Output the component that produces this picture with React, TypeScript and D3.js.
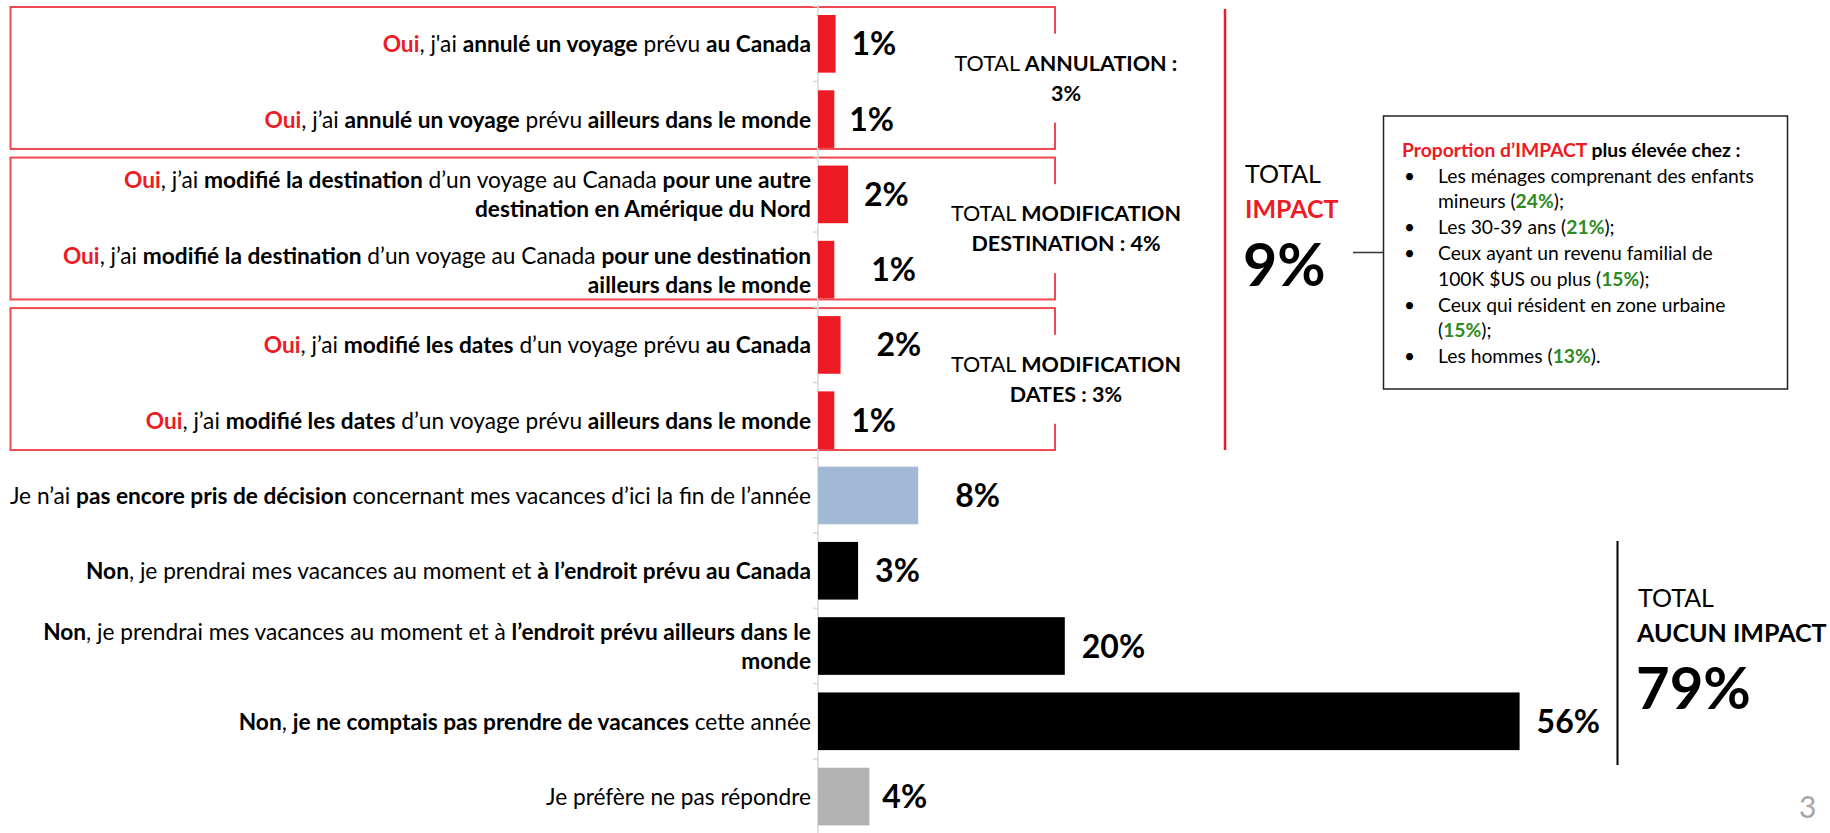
import React from "react";
import * as d3 from "d3";

// ---------- data ----------
const categories: string[] = [
  "^^Oui^^, j'ai **annulé un voyage** prévu **au Canada**",
  "^^Oui^^, j’ai **annulé un voyage** prévu **ailleurs dans le monde**",
  "^^Oui^^, j’ai **modifié la destination** d’un voyage au Canada **pour une autre**\n**destination en Amérique du Nord**",
  "^^Oui^^, j’ai **modifié la destination** d’un voyage au Canada **pour une destination**\n**ailleurs dans le monde**",
  "^^Oui^^, j’ai **modifié les dates** d’un voyage prévu **au Canada**",
  "^^Oui^^, j’ai **modifié les dates** d’un voyage prévu **ailleurs dans le monde**",
  "Je n’ai **pas encore pris de décision** concernant mes vacances d’ici la fin de l’année",
  "**Non**, je prendrai mes vacances au moment et **à l’endroit prévu au Canada**",
  "**Non**, je prendrai mes vacances au moment et à **l’endroit prévu ailleurs dans le**\n**monde**",
  "**Non**, **je ne comptais pas prendre de vacances** cette année",
  "Je préfère ne pas répondre",
];
const values: number[] = [1.4, 1.3, 2.4, 1.3, 1.8, 1.3, 8.0, 3.2, 19.7, 56.0, 4.1];
const valueLabels: string[] = ["1%", "1%", "2%", "1%", "2%", "1%", "8%", "3%", "20%", "56%", "4%"];
const groups: string[] = ["impact", "impact", "impact", "impact", "impact", "impact", "undecided", "none", "none", "none", "noanswer"];

const impactBoxes = [
  { from: 0, to: 1, line1: "TOTAL **ANNULATION :**", line2: "**3%**" },
  { from: 2, to: 3, line1: "TOTAL **MODIFICATION**", line2: "**DESTINATION : 4%**" },
  { from: 4, to: 5, line1: "TOTAL **MODIFICATION**", line2: "**DATES : 3%**" },
];
const totalImpact = "9%";
const totalNoImpact = "79%";
const calloutLines: string[] = [
  "^^Proportion d’IMPACT^^** plus élevée chez :**",
  "•Les ménages comprenant des enfants",
  "mineurs (@@24%@@);",
  "•Les 30-39 ans (@@21%@@);",
  "•Ceux ayant un revenu familial de",
  "100K $US ou plus (@@15%@@);",
  "•Ceux qui résident en zone urbaine",
  "(@@15%@@);",
  "•Les hommes (@@13%@@).",
];

// ---------- style ----------
const colorMap: Record<string, string> = {
  impact: "#ed1c24",
  undecided: "#a1b9d4",
  none: "#000000",
  noanswer: "#b2b2b2",
};
// horizontal gap between bar end and its value label (as laid out in the original slide)
const labelGap: number[] = [16, 15, 16, 37, 36, 17, 37, 17, 17, 17, 13];
const RED = "#ed1c24";
const GREEN = "#2e8b1f";
const FONT = "Lato, 'Open Sans', sans-serif";

type Seg = { t: string; bold: boolean; color?: string };
function parse(s: string): Seg[] {
  const parts = s.split(/(\*\*.*?\*\*|\^\^.*?\^\^|@@.*?@@)/).filter((p) => p.length);
  return parts.map((p) => {
    if (p.startsWith("**")) return { t: p.slice(2, -2), bold: true };
    if (p.startsWith("^^")) return { t: p.slice(2, -2), bold: true, color: RED };
    if (p.startsWith("@@")) return { t: p.slice(2, -2), bold: true, color: GREEN };
    return { t: p, bold: false };
  });
}

function Rich(props: { s: string; x: number; y: number; anchor?: string; size: number; fill?: string }) {
  const segs = parse(props.s);
  return (
    <text
      x={props.x}
      y={props.y}
      textAnchor={props.anchor || "start"}
      fontSize={props.size}
      fontFamily={FONT}
      fill={props.fill || "#000"}
      style={{ whiteSpace: "pre" }}
    >
      {segs.map((g, i) => (
        <tspan key={i} fontWeight={g.bold ? 700 : 400} fill={g.color || undefined}>
          {g.t}
        </tspan>
      ))}
    </text>
  );
}

export default function App() {
  const W = 1830;
  const H = 833;
  const n = categories.length;
  const y = d3
    .scaleBand<number>()
    .domain(d3.range(n))
    .range([6.2, 834.2])
    .paddingInner(0.234)
    .paddingOuter(0.117);
  const x = d3.scaleLinear().domain([0, 56]).range([818, 1519.6]);
  const bw = y.bandwidth();
  const step = y.step();
  const x0 = x(0);
  const labelX = x0 - 7;
  const lineH = 29;

  const boundaries = d3
    .range(n + 1)
    .map((i) => (i < n ? (y(i) as number) : (y(n - 1) as number) + step) - (step * 0.234) / 2);

  return (
    <svg
      width={W}
      height={H}
      style={{ position: "fixed", left: 0, top: 0, background: "#fff" }}
      fontFamily={FONT}
    >
      <rect x={0} y={0} width={W} height={H} fill="#fff" />

      {/* impact group boxes */}
      {impactBoxes.map((b, i) => {
        const top = (y(b.from) as number) - 8;
        const bot = (y(b.to) as number) + bw + 1;
        const b1 = (y(b.from) as number) + bw - 2;
        return (
          <g key={"box" + i}>
            <rect x={10.5} y={top} width={1055 - 10.5} height={bot - top} fill="none" stroke="#ee4950" strokeWidth={2} />
            <rect x={1045} y={b1 - 37} width={20} height={89} fill="#fff" />
            <Rich s={b.line1} x={1066} y={b1} anchor="middle" size={21.5} />
            <Rich s={b.line2} x={1066} y={b1 + 30} anchor="middle" size={21.5} />
          </g>
        );
      })}

      {/* axis */}
      <line x1={x0} x2={x0} y1={5} y2={H} stroke="#d9d9d9" strokeWidth={1.5} />
      {boundaries.map((by, i) => (
        <line key={"t" + i} x1={x0 - 5} x2={x0} y1={by} y2={by} stroke="#d9d9d9" strokeWidth={1.5} />
      ))}

      {/* bars */}
      {values.map((v, i) => (
        <rect key={"b" + i} x={x0} y={y(i)} width={x(v) - x0} height={bw} fill={colorMap[groups[i]]} />
      ))}

      {/* value labels */}
      {values.map((v, i) => (
        <text
          key={"v" + i}
          x={x(v) + labelGap[i]}
          y={(y(i) as number) + bw / 2 + 11.5}
          fontSize={32}
          fontWeight={700}
          fontFamily={FONT}
        >
          {valueLabels[i]}
        </text>
      ))}

      {/* category labels */}
      {categories.map((c, i) => {
        const lines = c.split("\n");
        const cy = (y(i) as number) + bw / 2;
        const first = lines.length === 1 ? cy + 8.5 : cy - 6;
        return (
          <g key={"c" + i}>
            {lines.map((l, k) => (
              <Rich key={k} s={l} x={labelX} y={first + k * lineH} anchor="end" size={22.7} />
            ))}
          </g>
        );
      })}

      {/* TOTAL IMPACT */}
      <line x1={1225} x2={1225} y1={9} y2={450} stroke={RED} strokeWidth={2.5} />
      <Rich s="TOTAL" x={1245} y={183} size={25} />
      <Rich s="^^IMPACT^^" x={1245} y={218} size={25} />
      <Rich s={"**" + totalImpact + "**"} x={1243} y={286} size={59} />
      <line x1={1353} x2={1383} y1={252.5} y2={252.5} stroke="#333" strokeWidth={1.5} />

      {/* callout */}
      <rect x={1383.5} y={116} width={404} height={273} fill="#fff" stroke="#222" strokeWidth={1.5} />
      {calloutLines.map((l, i) => {
        const yy = 156.7 + i * 25.8;
        if (l.startsWith("•")) {
          return (
            <g key={"cl" + i}>
              <text x={1404} y={yy} fontSize={19} fontFamily={FONT}>•</text>
              <Rich s={l.slice(1)} x={1438} y={yy} size={19.3} />
            </g>
          );
        }
        return <Rich key={"cl" + i} s={l} x={i === 0 ? 1402 : 1438} y={yy} size={19.3} />;
      })}

      {/* TOTAL AUCUN IMPACT */}
      <line x1={1617.5} x2={1617.5} y1={541} y2={765} stroke="#000" strokeWidth={2} />
      <Rich s="TOTAL" x={1638} y={607} size={25} />
      <Rich s="**AUCUN IMPACT**" x={1637} y={642} size={25} />
      <Rich s={"**" + totalNoImpact + "**"} x={1636} y={709} size={58} />

      {/* page number */}
      <text x={1799} y={818} fontSize={30} fill="#a6a6a6" fontFamily={FONT}>3</text>
    </svg>
  );
}
